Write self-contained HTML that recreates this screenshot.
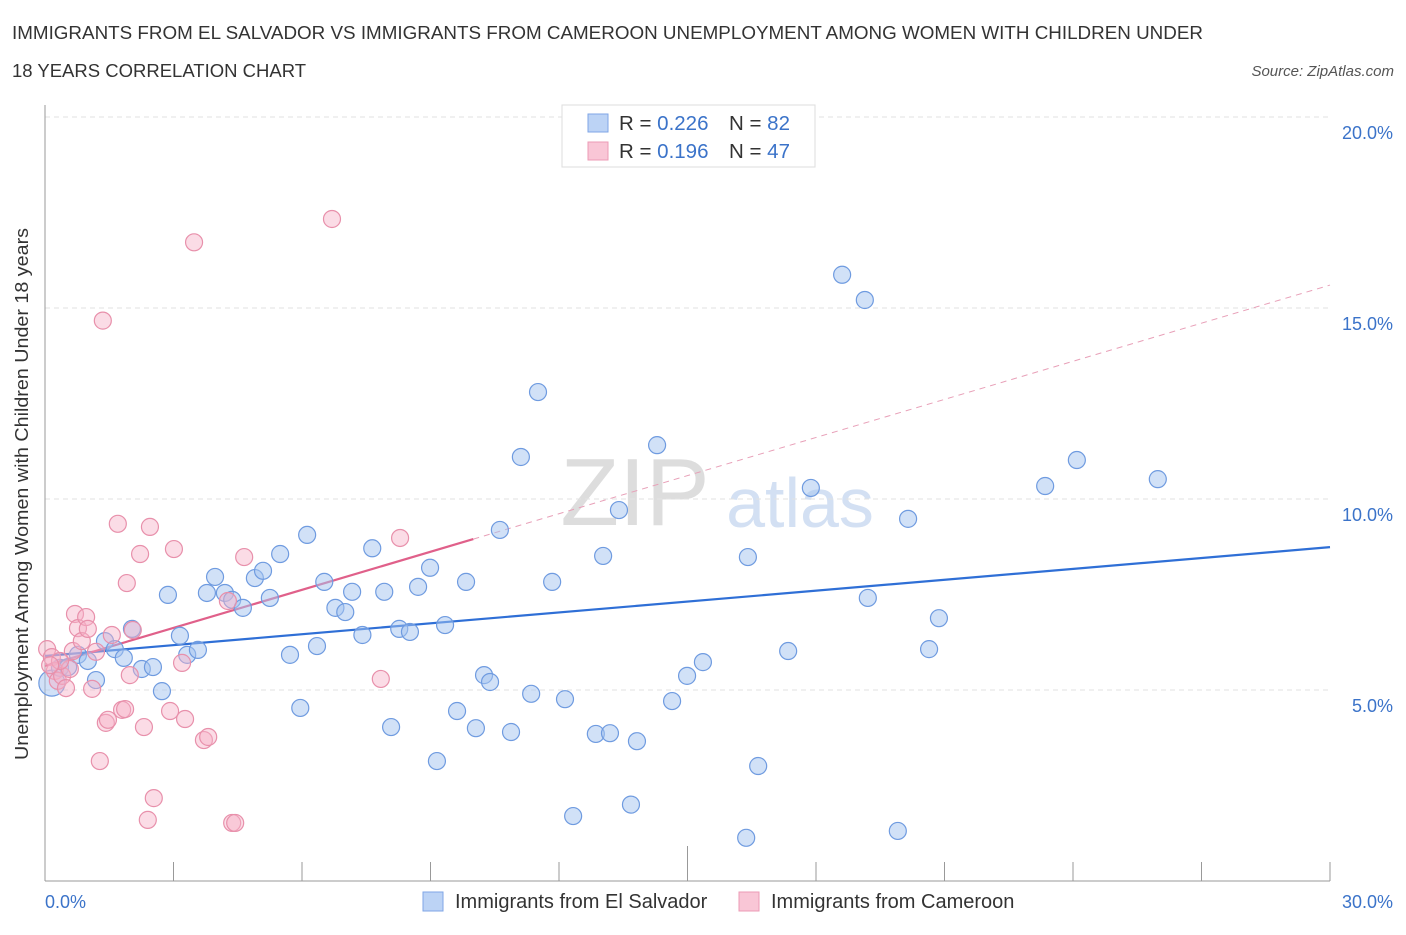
<!DOCTYPE html>
<html><head><meta charset="utf-8"><style>
body{margin:0;background:#fff;font-family:"Liberation Sans",sans-serif;}
svg text{font-family:"Liberation Sans",sans-serif;}
</style></head><body>
<svg id="chart" width="1406" height="930">
<text x="12" y="39" font-size="18.5" fill="#333" textLength="1191" lengthAdjust="spacingAndGlyphs">IMMIGRANTS FROM EL SALVADOR VS IMMIGRANTS FROM CAMEROON UNEMPLOYMENT AMONG WOMEN WITH CHILDREN UNDER</text>
<text x="12" y="77" font-size="18.5" fill="#333">18 YEARS CORRELATION CHART</text>
<text x="1394" y="76" font-size="15" fill="#555" text-anchor="end" font-style="italic">Source: ZipAtlas.com</text>
<text x="635" y="525" font-size="96" fill="#ddd" text-anchor="middle" font-family="Liberation Serif">ZIP</text>
<text x="800" y="527" font-size="70" fill="#d3e0f3" text-anchor="middle">atlas</text>
<g id="grid"></g><g id="axes"></g><g id="trends"></g><g id="pts"></g>
<text x="28" y="494" font-size="18" fill="#333" text-anchor="middle" textLength="532" lengthAdjust="spacingAndGlyphs" transform="rotate(-90 28 494)">Unemployment Among Women with Children Under 18 years</text>
<text x="45" y="908" font-size="18" fill="#3b73c9">0.0%</text>
<text x="1393" y="908" font-size="18" fill="#3b73c9" text-anchor="end">30.0%</text>
<g>
<rect x="562" y="105" width="253" height="62" fill="#fff" stroke="#ddd"/>
<rect x="588" y="114" width="20" height="18" fill="#bcd3f5" stroke="#7fa6e6"/>
<rect x="588" y="142" width="20" height="18" fill="#f9c6d6" stroke="#ec9bb6"/>
<text x="619" y="130" font-size="20.5" fill="#333">R = <tspan fill="#3b73c9">0.226</tspan></text>
<text x="729" y="130" font-size="20.5" fill="#333">N = <tspan fill="#3b73c9">82</tspan></text>
<text x="619" y="158" font-size="20.5" fill="#333">R =  <tspan fill="#3b73c9">0.196</tspan></text>
<text x="729" y="158" font-size="20.5" fill="#333">N = <tspan fill="#3b73c9">47</tspan></text>
</g>
<g>
<rect x="423" y="892" width="20" height="19" fill="#bcd3f5" stroke="#7fa6e6"/>
<text x="455" y="908" font-size="20" fill="#333">Immigrants from El Salvador</text>
<rect x="739" y="892" width="20" height="19" fill="#f9c6d6" stroke="#ec9bb6"/>
<text x="771" y="908" font-size="20" fill="#333">Immigrants from Cameroon</text>
</g>
</svg>
<script>
const yTicks=[5,10,15,20];
const yTickLabels=["5.0%","10.0%","15.0%","20.0%"];
const xTicks=[0,3,6,9,12,15,18,21,24,27,30];
const blueX=[0.16,0.35,0.54,0.77,1.0,1.19,1.4,1.63,1.84,2.03,2.26,2.52,2.73,2.87,3.15,3.32,3.57,3.78,3.97,4.2,4.37,4.62,4.9,5.09,5.25,5.49,5.72,5.96,6.12,6.35,6.52,6.78,7.01,7.17,7.41,7.64,7.92,8.08,8.27,8.52,8.71,8.99,9.15,9.34,9.62,9.83,10.06,10.25,10.39,10.62,10.88,11.11,11.35,11.51,11.84,12.14,12.33,12.86,13.03,13.19,13.4,13.68,13.82,14.29,14.64,14.99,15.36,16.37,16.41,16.65,17.35,17.88,18.61,19.14,19.21,19.91,20.15,20.64,20.87,23.35,24.09,25.98];
const blueY=[5.18,5.58,5.6,5.92,5.76,5.26,6.28,6.07,5.84,6.6,5.55,5.6,4.97,7.49,6.42,5.92,6.05,7.54,7.96,7.54,7.36,7.15,7.93,8.12,7.41,8.56,5.92,4.53,9.06,6.15,7.83,7.15,7.04,7.57,6.44,8.71,7.57,4.03,6.6,6.52,7.7,8.2,3.14,6.7,4.45,7.83,4.0,5.39,5.21,9.19,3.9,11.1,4.9,12.8,7.83,4.76,1.7,3.85,8.51,3.87,9.71,2.0,3.66,11.41,4.71,5.37,5.73,1.13,8.48,3.01,6.02,10.29,15.87,15.21,7.41,1.31,9.48,6.07,6.88,10.34,11.02,10.52];
const pinkX=[0.05,0.16,0.23,0.3,0.4,0.49,0.58,0.65,0.7,0.77,0.86,0.96,1.0,1.1,1.19,1.28,1.35,1.42,1.47,1.56,1.7,1.8,1.87,1.91,1.98,2.05,2.22,2.31,2.45,2.54,2.4,2.92,3.01,3.2,3.27,3.48,3.71,3.81,4.27,4.37,4.44,4.65,6.7,7.84,8.29,0.35,0.12];
const pinkY=[6.07,5.86,5.5,5.24,5.37,5.05,5.55,6.02,6.99,6.62,6.28,6.91,6.6,5.03,6.0,3.14,14.67,4.14,4.22,6.44,9.35,4.48,4.5,7.8,5.39,6.57,8.56,4.03,9.27,2.17,1.6,4.45,8.69,5.71,4.24,16.72,3.69,3.77,7.33,1.52,1.52,8.48,17.33,5.29,8.98,5.76,5.65];
const blueTrend=[0,5.89,30,8.74];
const pinkTrend=[0,5.63,10,8.95,30,15.6];
const X=v=>45+v/30*1285, Y=v=>881-v/5*191;
const NS="http://www.w3.org/2000/svg";
function mk(tag,attrs,parent){const e=document.createElementNS(NS,tag);for(const k in attrs)e.setAttribute(k,attrs[k]);document.getElementById(parent).appendChild(e);return e;}
yTicks.forEach((t,i)=>{
 const l=mk('line',{x1:45,x2:1330,y1:Y(t),y2:Y(t),stroke:'#e2e2e2','stroke-dasharray':'5,4'},'grid');
 
 
 const tx=mk('text',{x:1393,y:Y(t)+22,'font-size':18,fill:'#3b73c9','text-anchor':'end'},'grid');
 tx.textContent=yTickLabels[i];
 
 
});
const ax=mk('line',{x1:45,x2:45,y1:105,y2:881,stroke:'#999'},'axes');


const bx=mk('line',{x1:45,x2:1330,y1:881,y2:881,stroke:'#999'},'axes');


xTicks.forEach(t=>{
 const l=mk('line',{x1:X(t),x2:X(t),y1:t==15?846:862,y2:881,stroke:'#999'},'axes');
 
 
});
const bt=mk('line',{x1:X(blueTrend[0]),y1:Y(blueTrend[1]),x2:X(blueTrend[2]),y2:Y(blueTrend[3]),stroke:'#2f6fd6','stroke-width':2.2},'trends');


const pt=mk('line',{x1:X(pinkTrend[0]),y1:Y(pinkTrend[1]),x2:X(pinkTrend[2]),y2:Y(pinkTrend[3]),stroke:'#e0608a','stroke-width':2.2},'trends');


const pd=mk('line',{x1:X(pinkTrend[2]),y1:Y(pinkTrend[3]),x2:X(pinkTrend[4]),y2:Y(pinkTrend[5]),stroke:'#e8a0b8','stroke-width':1,'stroke-dasharray':'6,5'},'trends');


blueX.forEach((v,i)=>{
 const c=mk('circle',{cx:X(v),cy:Y(blueY[i]),r:i==0?13:8.5,fill:'rgba(164,195,240,0.5)',stroke:'#6f9be0','stroke-width':1.2},'pts');
 
 
});
pinkX.forEach((v,i)=>{
 const c=mk('circle',{cx:X(v),cy:Y(pinkY[i]),r:8.5,fill:'rgba(246,178,200,0.45)',stroke:'#e890ab','stroke-width':1.2},'pts');
 
 
});
</script>
</body></html>
